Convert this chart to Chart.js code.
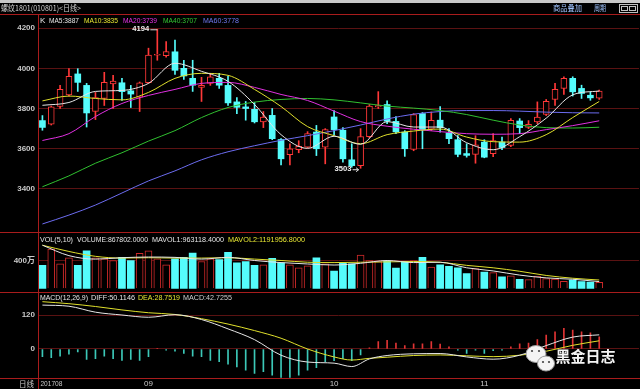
<!DOCTYPE html>
<html>
<head>
<meta charset="utf-8">
<script src="https://cdn.jsdelivr.net/npm/chart.js@4.4.1/dist/chart.umd.min.js"></script>
<style>
  html, body { margin: 0; padding: 0; background: #000; }
  canvas { display: block; }
</style>
</head>
<body>
<canvas id="chart" width="640" height="389"></canvas>
<script>
// daily candles, rebar 1801, mid Aug -> mid Nov 2017
const open  = [3740,3722,3810,3868,3972,3915,3785,3850,3922,3928,3888,3856,3928,4065,4063,4082,
               4000,3950,3905,3925,3950,3915,3833,3808,3796,3733,3766,3646,3570,3596,3608,3683,
               3608,3758,3692,3545,3516,3660,3808,3820,3736,3683,3597,3775,3697,3742,3678,3645,
               3576,3572,3633,3575,3633,3617,3738,3706,3733,3771,3845,3900,3950,3900,3866,3852];
const high  = [3765,3812,3915,3998,3998,3925,3880,3980,3965,3950,3915,3932,4100,4194,4133,4140,
               4040,4040,3955,3975,3975,3960,3855,3835,3830,3785,3800,3650,3625,3640,3685,3716,
               3700,3790,3705,3625,3700,3820,3884,3838,3760,3690,3775,3780,3783,3810,3700,3666,
               3625,3665,3645,3675,3658,3750,3750,3740,3833,3845,3925,3958,3958,3916,3883,3892];
const low   = [3692,3718,3800,3862,3885,3708,3745,3815,3800,3840,3805,3785,3925,4040,4055,3970,
               3945,3885,3835,3915,3900,3815,3775,3742,3728,3705,3645,3520,3520,3580,3605,3566,
               3525,3668,3533,3508,3503,3655,3800,3725,3675,3562,3590,3600,3690,3683,3625,3560,
               3558,3528,3555,3560,3595,3610,3675,3700,3725,3765,3815,3870,3862,3850,3841,3845];
const close = [3706,3808,3895,3960,3930,3778,3855,3930,3936,3884,3872,3928,4066,4068,4083,3990,
               3962,3916,3915,3958,3916,3828,3806,3800,3734,3758,3650,3550,3600,3612,3675,3600,
               3695,3695,3550,3516,3661,3812,3815,3737,3684,3600,3770,3695,3741,3705,3650,3572,
               3567,3620,3558,3641,3606,3741,3705,3721,3758,3836,3895,3950,3883,3875,3853,3887];
const volume = [3290000,5640000,3530000,4370000,3300000,5400000,4370000,4230000,4000000,4460000,
                3990000,5030000,5400000,4230000,3380000,4230000,4460000,5080000,3860000,4230000,
                4140000,5170000,3660000,3850000,3290000,3380000,4320000,3660000,3380000,2960000,
                3240000,4370000,3530000,2490000,3660000,3530000,4790000,3990000,3850000,3900000,
                2910000,3850000,3990000,4460000,3050000,3380000,3150000,2960000,2110000,2820000,
                2350000,2250000,1640000,1780000,1300000,1250000,1750000,1400000,1330000,1000000,
                1170000,950000,900000,867802];
const macdBar = [-27,-31,-25,-18,-10,-37,-34,-25,-34,-40,-37,-40,-27,2,-4,-8,
                 -16,-25,-27,-40,-45,-54,-63,-75,-86,-80,-92,-100,-100,-92,-75,-66,
                 -45,-41,-34,-41,-21,4,26,31,21,12,18,18,26,17,8,-4,
                 -16,-4,-16,-6,-4,8,18,21,33,49,61,73,67,61,57,43];

// moving averages read every third candle
const maIdx = [0,3,6,9,12,15,18,21,24,27,30,33,36,39,42,45,48,51,54,57,60,63];
const ma5  = [3816,3830,3885,3890,3925,4025,3985,3935,3820,3670,3602,3662,3622,3735,3708,3708,3630,3595,3660,3752,3868,3887];
const ma10 = [3838,3862,3850,3843,3880,3950,3975,3965,3895,3810,3710,3665,3625,3670,3688,3698,3658,3635,3633,3670,3755,3835];
const ma20 = [3641,3675,3760,3825,3865,3895,3925,3930,3905,3870,3840,3787,3735,3712,3697,3685,3675,3672,3675,3695,3715,3739];
const ma40 = [3411,3465,3528,3580,3638,3690,3755,3805,3832,3845,3850,3843,3828,3812,3802,3790,3770,3742,3718,3705,3703,3707];
const ma60 = [3226,3270,3320,3380,3440,3490,3545,3585,3615,3642,3665,3690,3718,3748,3772,3785,3790,3790,3787,3782,3779,3778];
const mavol1 = [6200000,4700000,4200000,4400000,4500000,4450000,4200000,4450000,4000000,3700000,3500000,
                3350000,3600000,4000000,3700000,3750000,2950000,2500000,1900000,1500000,1300000,963118];
const mavol2 = [6200000,5300000,4600000,4350000,4400000,4350000,4350000,4400000,4200000,4000000,3750000,
                3700000,3750000,3800000,3850000,3750000,3300000,2950000,2450000,1850000,1450000,1191957];

const macdIdx = [0,3,6,9,12,15,18,21,24,27,30,33,35,37,39,42,45,48,51,54,57,60,63];
const diff = [155,151,130,120,112,121,104,71,33,-22,-46,-50,-62,-35,-23,-17,-16,-28,-36,-22,12,42,50];
const dea  = [167,160,150,138,128,122,107,88,65,38,0,-28,-39,-33,-29,-23,-21,-24,-27,-22,-8,13,29];

const priceTicks = [4200, 4000, 3800, 3600, 3400];
const volTicks = [4000000];
const macdTicks = [120, 0];
const xTickIdx = [0, 12, 33, 50];
const xTickText = ['201708', '09', '10', '11'];

const RED = '#ff3838', CYAN = '#55fcfc';
const FONT = "'Liberation Sans', 'Noto Sans CJK SC', sans-serif";
const CJK = "'Noto Sans CJK SC', sans-serif";

const up = close.map((c, i) => c >= open[i]);
const labels = close.map((c, i) => i);
function pts(ix, vals) { return ix.map((x, k) => ({ x: x, y: vals[k] })); }
function line(label, data, axis, color) {
  return { type: 'line', label: label, data: data, yAxisID: axis, borderColor: color, borderWidth: 1,
           pointRadius: 0, cubicInterpolationMode: 'monotone', fill: false, order: 0 };
}

function txt(c, s, x, y, color, w, font) {
  c.font = font || ('8px ' + FONT);
  c.fillStyle = color;
  c.textBaseline = 'middle';
  c.textAlign = 'left';
  if (w) c.fillText(s, x, y, w); else c.fillText(s, x, y);
}

const deco = {
  id: 'deco',
  beforeDraw(chart) {
    const c = chart.ctx;
    c.save();
    c.fillStyle = '#000';
    c.fillRect(0, 0, chart.width, chart.height);
    c.restore();
  },
  afterDraw(chart) {
    const c = chart.ctx, a = chart.chartArea, s = chart.scales;
    c.save();
    c.fillStyle = '#c8c8c8';
    c.fillRect(0, 0, 640, 3);

    // panel frames
    c.strokeStyle = '#a81c1c';
    c.lineWidth = 1;
    [a.top, s.y.bottom, s.yVol.bottom, a.bottom].forEach(y => {
      const yy = Math.round(y) + 0.5;
      c.beginPath(); c.moveTo(0, yy); c.lineTo(640, yy); c.stroke();
    });
    const xx = Math.round(a.left) + 0.5;
    c.beginPath(); c.moveTo(xx, a.top); c.lineTo(xx, 389); c.stroke();

    // title row
    txt(c, '螺纹1801(010801)<日线>', 1, 8, '#d0d0d0', 80, '8px ' + CJK);
    txt(c, '商品叠加', 553, 8, '#a0c4ff', 29, '8px ' + CJK);
    txt(c, '周期', 594, 8, '#a0c4ff', 12, '8px ' + CJK);
    c.strokeStyle = '#c0c0c0';
    c.strokeRect(619.5, 4.5, 18, 8);
    c.strokeRect(621.5, 6.5, 6, 4);
    c.strokeRect(629.5, 6.5, 6, 4);

    // panel headers
    const py = s.y.top + 7, vy = s.yVol.top + 7.5, my = s.yMacd.top + 6;
    txt(c, 'K', 40, py, '#e6e6e6');
    txt(c, 'MA5:' + ma5[ma5.length - 1], 49, py, '#e6e6e6', 30);
    txt(c, 'MA10:' + ma10[ma10.length - 1], 84, py, '#e6e632', 34);
    txt(c, 'MA20:' + ma20[ma20.length - 1], 123, py, '#e632e6', 34);
    txt(c, 'MA40:' + ma40[ma40.length - 1], 163, py, '#32c832', 34);
    txt(c, 'MA60:' + ma60[ma60.length - 1], 203, py, '#7078f0', 36);

    txt(c, 'VOL(5,10)', 40, vy, '#e6e6e6', 33);
    txt(c, 'VOLUME:' + volume[volume.length - 1].toFixed(4), 77, vy, '#e6e6e6', 71);
    txt(c, 'MAVOL1:' + mavol1[mavol1.length - 1].toFixed(4).replace(/0000$/, '4000'), 152, vy, '#e6e6e6', 72);
    txt(c, 'MAVOL2:' + '1191956.8000', 228, vy, '#e6e632', 77);

    txt(c, 'MACD(12,26,9)', 40, my, '#e6e6e6', 48);
    txt(c, 'DIFF:50.1146', 91, my, '#e6e6e6', 44);
    txt(c, 'DEA:28.7519', 138, my, '#e6e632', 42);
    txt(c, 'MACD:42.7255', 183, my, '#d0d0d0', 49);

    // high / low marks
    const hx = s.x.getPixelForValue(13), hy = s.y.getPixelForValue(high[13]);
    c.font = 'bold 8px ' + FONT;
    c.fillStyle = '#f0f0f0'; c.textAlign = 'right'; c.textBaseline = 'middle';
    c.fillText(String(high[13]), hx - 8, hy, 17);
    c.strokeStyle = '#e0e0e0';
    c.beginPath(); c.moveTo(hx - 7, hy + 0.5); c.lineTo(hx, hy + 0.5); c.stroke();
    const lx = s.x.getPixelForValue(36) - 2, ly = s.y.getPixelForValue(low[36]) + 1;
    c.fillText(String(low[36]), lx - 7, ly, 17);
    c.beginPath(); c.moveTo(lx - 6, ly + 0.5); c.lineTo(lx, ly + 0.5); c.stroke();
    c.beginPath(); c.moveTo(lx, ly + 0.5); c.lineTo(lx - 2.5, ly - 1.5); c.moveTo(lx, ly + 0.5); c.lineTo(lx - 2.5, ly + 2.5); c.stroke();

    // date axis
    txt(c, '日线', 19, 383.5, '#c8c8c8', 15, '8px ' + CJK);
    xTickIdx.forEach((ix, k) => {
      const px = s.x.getPixelForValue(ix);
      c.font = '8px ' + FONT; c.fillStyle = '#c8c8c8'; c.textBaseline = 'middle';
      c.textAlign = k === 0 ? 'left' : 'center';
      c.fillText(xTickText[k], k === 0 ? px - 2 : px, 383.5, k === 0 ? 22 : undefined);
    });

    // watermark
    c.fillStyle = '#f4f4f4'; c.strokeStyle = '#9a9a9a';
    c.beginPath(); c.ellipse(536, 354, 10, 8.5, 0, 0, Math.PI * 2); c.fill(); c.stroke();
    c.beginPath(); c.ellipse(546, 363.5, 8.5, 7.5, 0, 0, Math.PI * 2); c.fill(); c.stroke();
    c.fillStyle = '#444';
    [[532, 351], [539, 351], [543, 362], [549, 362]].forEach(p => { c.beginPath(); c.arc(p[0], p[1], 1.1, 0, Math.PI * 2); c.fill(); });
    c.font = 'bold 15px ' + CJK;
    c.textAlign = 'left'; c.textBaseline = 'middle';
    c.fillStyle = 'rgba(0,0,0,0.6)';
    c.fillText('黑金日志', 556.5, 357.5);
    c.fillStyle = '#f4f4f4';
    c.fillText('黑金日志', 555.5, 356.5);
    c.restore();
  }
};

function yAxis(stackW, weight, min, max, ticks, cb) {
  return {
    type: 'linear', position: 'left', stack: 'panels', stackWeight: stackW, weight: weight,
    min: min, max: max,
    afterBuildTicks: sc => { sc.ticks = ticks.map(v => ({ value: v })); },
    afterFit: sc => { sc.width = 38; },
    grid: { color: '#5a1212', drawTicks: false, lineWidth: 1 },
    border: { display: false },
    ticks: { color: '#c8c8c8', padding: 3, font: { size: 8, weight: 'bold', family: FONT }, callback: cb }
  };
}

new Chart(document.getElementById('chart'), {
  type: 'bar',
  data: {
    labels: labels,
    datasets: [
      line('MA5', pts(maIdx, ma5), 'y', '#e6e6e6'),
      line('MA10', pts(maIdx, ma10), 'y', '#e0e02c'),
      line('MA20', pts(maIdx, ma20), 'y', '#e030e0'),
      line('MA40', pts(maIdx, ma40), 'y', '#30c030'),
      line('MA60', pts(maIdx, ma60), 'y', '#6c6cf0'),
      {
        label: 'body', data: open.map((o, i) => [o, close[i]]), yAxisID: 'y', grouped: false,
        barThickness: 6, minBarLength: 1, borderSkipped: false,
        backgroundColor: up.map(u => u ? '#000' : CYAN),
        borderColor: up.map(u => u ? RED : CYAN),
        borderWidth: up.map(u => u ? 1 : 0), order: 1
      },
      {
        label: 'wick', data: low.map((l, i) => [l, high[i]]), yAxisID: 'y', grouped: false,
        barThickness: 1, backgroundColor: up.map(u => u ? RED : CYAN), order: 2
      },
      {
        label: 'VOL', data: volume, yAxisID: 'yVol', grouped: false, barThickness: 7,
        backgroundColor: up.map(u => u ? '#000' : CYAN),
        borderColor: up.map(u => u ? '#d02a2a' : CYAN),
        borderWidth: up.map(u => u ? 1 : 0), order: 1
      },
      line('MAVOL1', pts(maIdx, mavol1), 'yVol', '#e6e6e6'),
      line('MAVOL2', pts(maIdx, mavol2), 'yVol', '#e0e02c'),
      {
        label: 'MACD', data: macdBar, yAxisID: 'yMacd', grouped: false, barThickness: 1,
        backgroundColor: macdBar.map(v => v >= 0 ? '#e03434' : '#3cc8b8'), order: 1
      },
      line('DIFF', pts(macdIdx, diff), 'yMacd', '#e6e6e6'),
      line('DEA', pts(macdIdx, dea), 'yMacd', '#e0e02c')
    ]
  },
  options: {
    responsive: false,
    devicePixelRatio: 1,
    animation: false,
    layout: { padding: { top: 14, bottom: 11, left: 0, right: 1 } },
    plugins: { legend: { display: false }, tooltip: { enabled: false } },
    scales: {
      x: { type: 'linear', display: false, min: -0.5, max: 67.5, offset: false },
      y: yAxis(218, 3, 3186, 4270, priceTicks),
      yVol: yAxis(59.5, 2, -460000, 8100000, volTicks, v => (v / 10000) + '万'),
      yMacd: yAxis(86.5, 1, -102.4, 203, macdTicks)
    }
  },
  plugins: [deco]
});
</script>
</body>
</html>
